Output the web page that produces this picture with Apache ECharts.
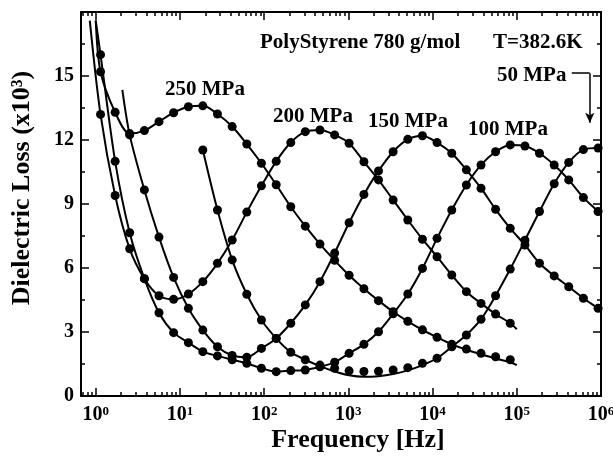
<!DOCTYPE html>
<html><head><meta charset="utf-8">
<script src="https://cdn.jsdelivr.net/npm/echarts@6/dist/echarts.min.js"></script>
<style>html,body{margin:0;padding:0;background:#fff}#c{width:613px;height:462px}</style>
</head><body><div id="c"></div>
<script>
// ---- data (frequency grid in Hz, dielectric loss x10^3) ----
const freqHz = [1.14, 1.70, 2.53, 3.78, 5.64, 8.41, 12.6, 18.7, 27.9, 41.7, 62.2, 92.8, 139, 207, 308, 460, 687, 1020, 1530, 2280, 3400, 5080, 7580, 11300, 16900, 25200, 37600, 56000, 83600, 125000, 186000, 278000, 414000, 618000, 923000];
const pressures = ['250 MPa', '200 MPa', '150 MPa', '100 MPa', '50 MPa'];
const loss250 = [15.2, 13.3, 12.3, 12.44, 12.86, 13.28, 13.56, 13.6, 13.22, 12.63, 11.81, 10.91, 9.9, 8.87, 7.96, 7.12, 6.36, 5.66, 5.03, 4.47, 3.95, 3.5, 3.1, 2.75, 2.42, 2.2, 2.0, 1.84, 1.7, null, null, null, null, null, null];
const loss200 = [13.2, 9.4, 6.9, 5.5, 4.7, 4.53, 4.78, 5.36, 6.22, 7.31, 8.62, 9.85, 11.0, 11.88, 12.39, 12.47, 12.24, 11.85, 10.98, 10.13, 9.19, 8.25, 7.35, 6.53, 5.67, 4.89, 4.34, 3.84, 3.41, null, null, null, null, null, null];
const loss150 = [null, null, 12.24, 9.66, 7.45, 5.56, 4.11, 3.09, 2.31, 1.9, 1.82, 2.23, 2.7, 3.41, 4.27, 5.36, 6.7, 8.12, 9.45, 10.55, 11.45, 12.03, 12.2, 11.88, 11.38, 10.6, 9.74, 8.75, 7.86, 7.08, 6.22, 5.63, 5.12, 4.58, 4.11];
const loss100 = [16.0, 11.0, 7.65, 5.5, 3.9, 2.97, 2.5, 2.08, 1.88, 1.7, 1.53, 1.3, 1.14, 1.19, 1.22, 1.37, 1.58, 2.0, 2.42, 3.01, 3.85, 4.78, 5.98, 7.39, 8.72, 9.89, 10.83, 11.45, 11.77, 11.72, 11.38, 10.83, 10.13, 9.3, 8.65];
const loss50 = [null, null, null, null, null, null, null, 11.53, 8.72, 6.38, 4.77, 3.56, 2.7, 2.05, 1.7, 1.45, 1.3, 1.18, 1.15, 1.16, 1.22, 1.33, 1.53, 1.77, 2.31, 2.86, 3.6, 4.7, 5.95, 7.3, 8.65, 9.95, 10.95, 11.55, 11.62];
// fitted curves (same grid) plus end points [Hz, value]
const fit250 = [15.2, 13.3, 12.3, 12.44, 12.86, 13.28, 13.56, 13.6, 13.22, 12.63, 11.81, 10.91, 9.9, 8.87, 7.96, 7.12, 6.36, 5.66, 5.03, 4.47, 3.95, 3.5, 3.1, 2.75, 2.42, 2.17, 1.96, 1.76, 1.58, null, null, null, null, null, null];
const fit200 = loss200;
const fit150 = loss150;
const fit100 = loss100;
const fit50 = [null, null, null, null, null, null, null, 11.53, 8.72, 6.38, 4.77, 3.56, 2.7, 2.05, 1.7, 1.4, 1.15, 0.97, 0.9, 0.93, 1.03, 1.2, 1.45, 1.77, 2.31, 2.86, 3.6, 4.7, 5.95, 7.3, 8.65, 9.95, 10.95, 11.55, 11.62];
const fitHead = {'250 MPa': [[1.0, 17.6]], '200 MPa': [[0.85, 17.6]], '150 MPa': [[2.07, 14.35]], '100 MPa': [[1.0, 17.6]], '50 MPa': []};
const fitTail = {'250 MPa': [[1e5, 1.45]], '200 MPa': [[1e5, 3.13]], '150 MPa': [[1e6, 4.0]], '100 MPa': [[1e6, 8.5]], '50 MPa': [[1e6, 11.55]]};
const majorExp = [0, 1, 2, 3, 4, 5, 6];
const minorMult = [2, 3, 4, 5, 6, 7, 8, 9];
const yTicks = [0, 3, 6, 9, 12, 15];

// ---- build ----
const XMIN = -0.175, XMAX = 6;
const minorLogs = [];
for (let n = -1; n <= 5; n++) for (const k of minorMult) {
  const v = Math.log10(k * Math.pow(10, n));
  if (v > XMIN && v < XMAX) minorLogs.push(v);
}
const SERIF = '"Liberation Serif", "Times New Roman", serif';
const toPts = vals => vals.map((v, i) => v == null ? null : [Math.log10(freqHz[i]), v]).filter(p => p);
const conv = arr => arr.map(p => [Math.log10(p[0]), p[1]]);
const dots = {'250 MPa': loss250, '200 MPa': loss200, '150 MPa': loss150, '100 MPa': loss100, '50 MPa': loss50};
const fits = {'250 MPa': fit250, '200 MPa': fit200, '150 MPa': fit150, '100 MPa': fit100, '50 MPa': fit50};

const series = [];
pressures.forEach(p => {
  const ln = {
    type: 'line', name: p + ' fit', data: [...conv(fitHead[p]), ...toPts(fits[p]), ...conv(fitTail[p])],
    symbol: 'none', showSymbol: false, smooth: 0.3, lineStyle: {color: '#000', width: 2, opacity: 1}, z: 2, silent: true
  };
  if (p === '50 MPa') {
    ln.markLine = {
      silent: true, animation: false, label: {show: false},
      lineStyle: {color: '#000', width: 1.5, type: 'solid', opacity: 1},
      data: [
        [{coord: [5.653, 15.13], symbol: 'none'}, {coord: [5.867, 15.13], symbol: 'none'}],
        [{coord: [5.867, 15.13], symbol: 'none'}, {coord: [5.867, 12.81], symbol: 'arrow', symbolSize: [7, 10]}]
      ]
    };
  }
  series.push(ln);
  series.push({
    type: 'scatter', name: p, data: toPts(dots[p]), symbol: 'circle', symbolSize: 9,
    itemStyle: {color: '#000', opacity: 1, borderWidth: 0}, z: 3, silent: true
  });
});

const lineSt = {color: '#000', width: 2};
const xBase = {type: 'value', min: XMIN, max: XMAX, splitLine: {show: false}, gridIndex: 0};
const option = {
  animation: false,
  backgroundColor: '#fff',
  grid: {left: 81, right: 12, top: 12, bottom: 66, containLabel: false, outerBoundsMode: 'none'},
  xAxis: [
    Object.assign({}, xBase, {
      position: 'bottom',
      axisLine: {show: true, onZero: false, lineStyle: lineSt},
      axisTick: {show: true, inside: true, length: 8, customValues: majorExp, lineStyle: {color: '#000', width: 1.5}},
      axisLabel: {
        show: true, customValues: majorExp, margin: 9, hideOverlap: false,
        formatter: v => '{b|10}{s|' + v + '}',
        rich: {
          b: {fontSize: 20, fontWeight: 'bold', fontFamily: SERIF, color: '#000'},
          s: {fontSize: 13, fontWeight: 'bold', fontFamily: SERIF, color: '#000', verticalAlign: 'top'}
        }
      }
    }),
    Object.assign({}, xBase, {
      position: 'bottom',
      axisLine: {show: false, onZero: false},
      axisTick: {show: true, inside: true, length: 4, customValues: minorLogs, lineStyle: {color: '#000', width: 1.5}},
      axisLabel: {show: false}
    }),
    Object.assign({}, xBase, {
      position: 'top',
      axisLine: {show: true, onZero: false, lineStyle: lineSt},
      axisTick: {show: true, inside: true, length: 8, customValues: majorExp, lineStyle: {color: '#000', width: 1.5}},
      axisLabel: {show: false}
    }),
    Object.assign({}, xBase, {
      position: 'top',
      axisLine: {show: false, onZero: false},
      axisTick: {show: true, inside: true, length: 4, customValues: minorLogs, lineStyle: {color: '#000', width: 1.5}},
      axisLabel: {show: false}
    })
  ],
  yAxis: [
    {
      type: 'value', min: 0, max: 18, interval: 3, position: 'left',
      axisLine: {show: true, onZero: false, lineStyle: lineSt},
      axisTick: {show: true, inside: true, length: 8, lineStyle: {color: '#000', width: 1.5}},
      minorTick: {show: true, splitNumber: 2, length: 4, lineStyle: {color: '#000', width: 1.5}},
      splitLine: {show: false}, minorSplitLine: {show: false},
      axisLabel: {
        show: true, margin: 7, fontSize: 20, fontWeight: 'bold', fontFamily: SERIF, color: '#000',
        formatter: v => yTicks.indexOf(v) >= 0 ? String(v) : ''
      }
    },
    {
      type: 'value', min: 0, max: 18, interval: 3, position: 'right',
      axisLine: {show: true, onZero: false, lineStyle: lineSt},
      axisTick: {show: true, inside: true, length: 8, lineStyle: {color: '#000', width: 1.5}},
      minorTick: {show: true, splitNumber: 2, length: 4, lineStyle: {color: '#000', width: 1.5}},
      splitLine: {show: false}, minorSplitLine: {show: false},
      axisLabel: {show: false}
    }
  ],
  series: series,
  graphic: [
    {type: 'text', x: 22, y: 188, rotation: Math.PI / 2, style: {text: 'Dielectric Loss (x10³)', font: 'bold 26px ' + SERIF, fill: '#000', align: 'center', verticalAlign: 'middle'}},
    {type: 'text', x: 358, y: 440, style: {text: 'Frequency [Hz]', font: 'bold 26px ' + SERIF, fill: '#000', align: 'center', verticalAlign: 'middle'}},
    {type: 'text', x: 260, y: 43, style: {text: 'PolyStyrene 780 g/mol', font: 'bold 21px ' + SERIF, fill: '#000', align: 'left', verticalAlign: 'middle'}},
    {type: 'text', x: 493, y: 43, style: {text: 'T=382.6K', font: 'bold 21px ' + SERIF, fill: '#000', align: 'left', verticalAlign: 'middle'}},
    {type: 'text', x: 497, y: 76, style: {text: '50 MPa', font: 'bold 21px ' + SERIF, fill: '#000', align: 'left', verticalAlign: 'middle'}},
    {type: 'text', x: 165, y: 89.5, style: {text: '250 MPa', font: 'bold 21px ' + SERIF, fill: '#000', align: 'left', verticalAlign: 'middle'}},
    {type: 'text', x: 273, y: 116.5, style: {text: '200 MPa', font: 'bold 21px ' + SERIF, fill: '#000', align: 'left', verticalAlign: 'middle'}},
    {type: 'text', x: 368, y: 122, style: {text: '150 MPa', font: 'bold 21px ' + SERIF, fill: '#000', align: 'left', verticalAlign: 'middle'}},
    {type: 'text', x: 468, y: 130, style: {text: '100 MPa', font: 'bold 21px ' + SERIF, fill: '#000', align: 'left', verticalAlign: 'middle'}}
  ]
};
const chart = echarts.init(document.getElementById('c'), null, {renderer: 'canvas'});
chart.setOption(option);
</script></body></html>
